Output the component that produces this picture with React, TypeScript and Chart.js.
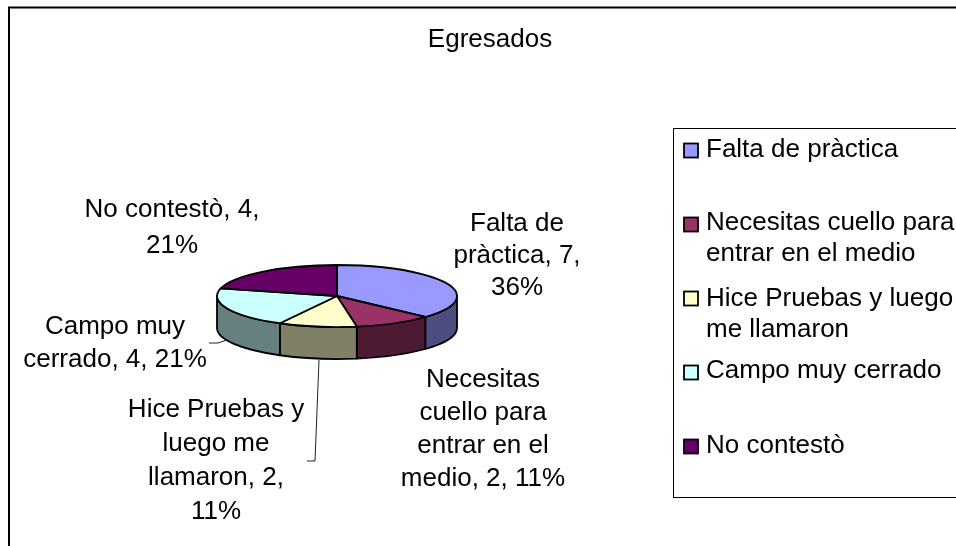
import React, { useEffect, useRef } from "react";
import { Chart, registerables } from "chart.js";

Chart.register(...registerables);

const titleText = "Egresados";
const categories = ["Falta de pràctica", "Necesitas cuello para entrar en el medio", "Hice Pruebas y luego me llamaron", "Campo muy cerrado", "No contestò"];
const values = [7, 2, 2, 4, 4];
const percents = [36, 11, 11, 21, 21];
const sliceColors = ["#9999ff", "#993366", "#ffffcc", "#ccffff", "#660066"];
const wallColors = ["#4d4d80", "#4d1933", "#808066", "#668080", "#330033"];

// Wrapped text, as in the picture
const legendLines = [["Falta de pràctica"], ["Necesitas cuello para", "entrar en el medio"], ["Hice Pruebas y luego", "me llamaron"], ["Campo muy cerrado"], ["No contestò"]];
const labelLines = [
  ["Falta de", `pràctica, ${values[0]},`, `${percents[0]}%`],
  ["Necesitas", "cuello para", "entrar en el", `medio, ${values[1]}, ${percents[1]}%`],
  ["Hice Pruebas y", "luego me", `llamaron, ${values[2]},`, `${percents[2]}%`],
  ["Campo muy", `cerrado, ${values[3]}, ${percents[3]}%`],
  [`No contestò, ${values[4]},`, `${percents[4]}%`],
];

// Layout, separate from the data
const labelAnchors = [
  { x: 517, y: 231, lh: 32 },
  { x: 483, y: 387, lh: 33 },
  { x: 216, y: 417, lh: 34 },
  { x: 115, y: 334, lh: 33 },
  { x: 172, y: 217, lh: 36 },
];
const legendRows = [
  { swatch: 150.5, baselines: [157] },
  { swatch: 224.5, baselines: [230, 261] },
  { swatch: 298.5, baselines: [306, 337] },
  { swatch: 372.5, baselines: [378] },
  { swatch: 446.5, baselines: [453] },
];
const leaderLines = [
  [[209, 343], [218, 343], [227, 340]],
  [[319, 360], [315, 461], [307, 461]],
];

const FONT = '26px "Liberation Sans", Arial, sans-serif';
const TILT = 31 / 120;
const DEPTH = 32;

const piePlugin = {
  id: "pie3d",
  beforeDatasetsDraw(chart: any) {
    const ctx: CanvasRenderingContext2D = chart.ctx;
    const arcs = chart.getDatasetMeta(0).data;
    const colors = chart.data.datasets[0].backgroundColor;
    ctx.save();
    ctx.strokeStyle = "#000";
    ctx.lineWidth = 1.8;
    ctx.lineJoin = "round";

    // side walls: only the part of each slice facing the viewer
    arcs.forEach((arc: any, i: number) => {
      const { x, y, startAngle, endAngle, outerRadius: r } = arc;
      const ry = r * TILT;
      const ranges = [
        [Math.max(startAngle, 0), Math.min(endAngle, Math.PI)],
        [Math.max(startAngle, 2 * Math.PI), Math.min(endAngle, 3 * Math.PI)],
      ];
      ranges.forEach(([a, b]) => {
        if (b <= a) return;
        ctx.beginPath();
        ctx.ellipse(x, y, r, ry, 0, a, b);
        ctx.lineTo(x + r * Math.cos(b), y + ry * Math.sin(b) + DEPTH);
        ctx.ellipse(x, y + DEPTH, r, ry, 0, b, a, true);
        ctx.closePath();
        ctx.fillStyle = wallColors[i];
        ctx.fill();
        ctx.stroke();
      });
    });

    // top face
    arcs.forEach((arc: any, i: number) => {
      const { x, y, startAngle, endAngle, outerRadius: r } = arc;
      ctx.beginPath();
      ctx.moveTo(x, y);
      ctx.ellipse(x, y, r, r * TILT, 0, startAngle, endAngle);
      ctx.closePath();
      ctx.fillStyle = colors[i];
      ctx.fill();
      ctx.stroke();
    });
    ctx.restore();
    return false;
  },
  afterDraw(chart: any) {
    const ctx: CanvasRenderingContext2D = chart.ctx;
    const colors = chart.data.datasets[0].backgroundColor;
    ctx.save();

    // outer frame (right and bottom edges lie outside the picture)
    ctx.strokeStyle = "#000";
    ctx.lineWidth = 2;
    ctx.beginPath();
    ctx.moveTo(9, 546);
    ctx.lineTo(9, 7.5);
    ctx.lineTo(956, 7.5);
    ctx.stroke();

    // leader lines
    ctx.lineWidth = 1;
    ctx.strokeStyle = "#222";
    leaderLines.forEach((pts) => {
      ctx.beginPath();
      pts.forEach(([px, py], i) => (i ? ctx.lineTo(px, py) : ctx.moveTo(px, py)));
      ctx.stroke();
    });

    ctx.fillStyle = "#000";
    ctx.font = FONT;
    ctx.textBaseline = "alphabetic";

    // title
    ctx.textAlign = "center";
    ctx.fillText(titleText, 490, 47);

    // data labels
    labelLines.forEach((lines, i) => {
      const a = labelAnchors[i];
      lines.forEach((t, j) => ctx.fillText(t, a.x, a.y + j * a.lh));
    });

    // legend
    ctx.strokeStyle = "#000";
    ctx.lineWidth = 1;
    ctx.strokeRect(673.5, 128.5, 400, 369);
    ctx.textAlign = "left";
    legendRows.forEach((row, i) => {
      ctx.lineWidth = 1.8;
      ctx.fillStyle = colors[i];
      ctx.fillRect(684, row.swatch - 7, 14, 14);
      ctx.strokeRect(684, row.swatch - 7, 14, 14);
      ctx.fillStyle = "#000";
      legendLines[i].forEach((t, j) => ctx.fillText(t, 706, row.baselines[j]));
    });
    ctx.restore();
  },
};

export default function App() {
  const ref = useRef<HTMLCanvasElement>(null);
  useEffect(() => {
    const chart = new Chart(ref.current!, {
      type: "pie",
      data: {
        labels: categories,
        datasets: [{ data: values, backgroundColor: sliceColors, borderWidth: 0 }],
      },
      options: {
        animation: false,
        responsive: false,
        events: [],
        radius: 120,
        layout: { padding: { left: 212, right: 494, top: 171, bottom: 125 } },
        plugins: { legend: { display: false }, title: { display: false }, tooltip: { enabled: false } },
      } as any,
      plugins: [piePlugin as any],
    });
    return () => chart.destroy();
  }, []);
  return (
    <canvas
      ref={ref}
      width={956}
      height={546}
      style={{ position: "fixed", left: 0, top: 0, display: "block", background: "#fff" }}
    />
  );
}
